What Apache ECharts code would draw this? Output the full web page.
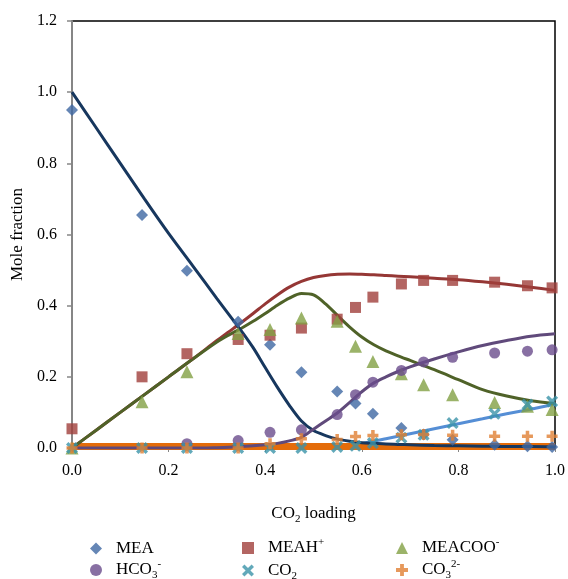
<!DOCTYPE html>
<html>
<head>
<meta charset="utf-8">
<script src="https://cdn.jsdelivr.net/npm/echarts@6/dist/echarts.min.js"></script>
<style>
  html, body { margin: 0; padding: 0; background: #fff; }
  #chart { width: 568px; height: 579px; }
</style>
</head>
<body>
<div id="chart"></div>
<script>
// Speciation in loaded MEA solution: measured points and model curves
const loading = [0, 0.145, 0.238, 0.344, 0.41, 0.475, 0.549, 0.587, 0.623, 0.682, 0.728, 0.788, 0.875, 0.943, 0.994];
const meaPts    = [0.95, 0.655, 0.498, 0.355, 0.29, 0.213, 0.159, 0.125, 0.096, 0.056, 0.038, 0.023, 0.009, 0.005, 0.003];
const meahPts   = [0.054, 0.2, 0.265, 0.305, 0.317, 0.337, 0.362, 0.395, 0.424, 0.461, 0.471, 0.471, 0.466, 0.456, 0.45];
const meacooPts = [0.0, 0.13, 0.214, 0.322, 0.333, 0.365, 0.356, 0.286, 0.243, 0.209, 0.178, 0.15, 0.128, 0.117, 0.108];
const hco3Pts   = [null, null, 0.012, 0.021, 0.044, 0.051, 0.094, 0.15, 0.185, 0.218, 0.242, 0.255, 0.267, 0.272, 0.276];
const co2Pts    = [0, 0, 0, 0, 0, 0, 0.003, 0.006, 0.014, 0.029, 0.037, 0.07, 0.096, 0.122, 0.131];
const co3Pts    = [0, 0, 0, 0, 0.012, 0.026, 0.024, 0.032, 0.035, 0.037, 0.038, 0.036, 0.033, 0.033, 0.033];

// Model curves on a common loading grid (finer through the transition region)
const modelX      = [0, 0.05, 0.1, 0.15, 0.2, 0.25, 0.3, 0.325, 0.35, 0.375, 0.4, 0.425, 0.45, 0.475, 0.5, 0.525, 0.55, 0.575, 0.6, 0.625, 0.65, 0.675, 0.7, 0.75, 0.8, 0.85, 0.9, 0.95, 1.0];
const meaModel    = [1.0, 0.9, 0.8, 0.7, 0.603, 0.512, 0.42, 0.375, 0.33, 0.282, 0.226, 0.171, 0.12, 0.076, 0.049, 0.035, 0.025, 0.019, 0.015, 0.013, 0.011, 0.01, 0.009, 0.007, 0.006, 0.005, 0.004, 0.004, 0.003];
const meahModel   = [0, 0.05, 0.1, 0.15, 0.2, 0.25, 0.302, 0.327, 0.352, 0.378, 0.405, 0.43, 0.452, 0.468, 0.479, 0.485, 0.488, 0.489, 0.488, 0.487, 0.485, 0.483, 0.481, 0.477, 0.473, 0.467, 0.46, 0.452, 0.443];
const meacooModel = [0, 0.05, 0.1, 0.15, 0.2, 0.25, 0.298, 0.318, 0.336, 0.356, 0.378, 0.401, 0.421, 0.434, 0.43, 0.405, 0.372, 0.34, 0.312, 0.29, 0.273, 0.259, 0.246, 0.22, 0.192, 0.164, 0.146, 0.133, 0.125];
const hco3Model   = [0, 0, 0, 0, 0, 0, 0.001, 0.002, 0.004, 0.006, 0.009, 0.013, 0.02, 0.03, 0.053, 0.076, 0.099, 0.128, 0.158, 0.183, 0.2, 0.215, 0.228, 0.25, 0.27, 0.288, 0.302, 0.314, 0.321];
const co2Model    = [0, 0, 0, 0, 0, 0, 0, 0, 0, 0, 0, 0, 0, 0, 0, 0.001, 0.003, 0.007, 0.013, 0.019, 0.026, 0.033, 0.04, 0.054, 0.068, 0.082, 0.096, 0.109, 0.123];
const co3Model    = [0.004, 0.004, 0.004, 0.004, 0.004, 0.004, 0.004, 0.004, 0.004, 0.004, 0.004, 0.004, 0.004, 0.004, 0.004, 0.004, 0.004, 0.004, 0.004, 0.004, 0.004, 0.004, 0.004, 0.004, 0.004, 0.004, 0.004, 0.004, 0.004];

const yTicks = ['0.0', '0.2', '0.4', '0.6', '0.8', '1.0', '1.2'];
const xTicks = ['0.0', '0.2', '0.4', '0.6', '0.8', '1.0'];

const FONT = 'Liberation Serif, Times New Roman, serif';

const pair = (xs, ys) => xs.map((x, i) => [x, ys[i]]);

const crossPath = 'path://M0,2L2,0L5,3L8,0L10,2L7,5L10,8L8,10L5,7L2,10L0,8L3,5Z';
const plusPath = 'path://M3.4,0H6.6V3.4H10V6.6H6.6V10H3.4V6.6H0V3.4H3.4Z';

function lineSeries(name, ys, color, width) {
  return {
    name: name, type: 'line', data: pair(modelX, ys),
    smooth: 0.3, showSymbol: false, symbol: 'none',
    lineStyle: { color: color, width: width }, z: 2, silent: true
  };
}
function pointSeries(name, ys, symbol, size, color) {
  return {
    name: name, type: 'scatter', data: pair(loading, ys).filter(p => p[1] !== null),
    symbol: symbol, symbolSize: size,
    itemStyle: { color: color }, z: 3
  };
}

const labelRich = {
  gap: { width: 9 },
  t: { fontFamily: FONT, fontSize: 17, color: '#000', lineHeight: 22, verticalAlign: 'middle' },
  sup: { fontFamily: FONT, fontSize: 11, color: '#000', lineHeight: 13, verticalAlign: 'top' },
  sub: { fontFamily: FONT, fontSize: 11, color: '#000', lineHeight: 16, verticalAlign: 'bottom' }
};
const legendText = {
  'MEA': '{gap|}{t|MEA}',
  'MEAH+': '{gap|}{t|MEAH}{sup|+}',
  'MEACOO-': '{gap|}{t|MEACOO}{sup|-}',
  'HCO3-': '{gap|}{t|HCO}{sub|3}{sup|-}',
  'CO2': '{gap|}{t|CO}{sub|2}',
  'CO32-': '{gap|}{t|CO}{sub|3}{sup|2-}'
};
// legend entries laid out in a 3 x 2 block below the axis title
const legendPos = [
  ['MEA', 85, 535], ['MEAH+', 237, 532], ['MEACOO-', 391, 532],
  ['HCO3-', 85, 554], ['CO2', 237, 557], ['CO32-', 391, 554]
];

const chart = echarts.init(document.getElementById('chart'), null, { renderer: 'canvas' });
chart.setOption({
  animation: false,
  backgroundColor: '#fff',
  grid: {
    left: 72, right: 12, top: 21, bottom: 131,
    show: true, borderColor: '#000', borderWidth: 1.5, backgroundColor: 'transparent'
  },
  legend: legendPos.map(([name, left, top]) => ({
    data: [name], left: left, top: top, orient: 'horizontal',
    itemWidth: 12, itemHeight: 12, selectedMode: false,
    formatter: (n) => legendText[n],
    textStyle: { rich: labelRich }
  })),
  xAxis: {
    type: 'value', min: 0, max: 1, interval: 0.2,
    name: '{t|CO}{sub|2}{t| loading}', nameLocation: 'middle', nameGap: 55,
    nameTextStyle: { rich: labelRich },
    axisLine: { show: true, lineStyle: { color: '#868686', width: 2 } },
    axisTick: { show: true, inside: false, length: 4, lineStyle: { color: '#868686', width: 1 } },
    axisLabel: { margin: 15, fontFamily: FONT, fontSize: 16, color: '#000',
      formatter: (v) => xTicks[Math.round(v / 0.2)] },
    splitLine: { show: false }
  },
  yAxis: {
    type: 'value', min: 0, max: 1.2, interval: 0.2,
    name: 'Mole fraction', nameLocation: 'middle', nameGap: 41,
    nameTextStyle: { fontFamily: FONT, fontSize: 17, color: '#000' },
    axisLine: { show: true, lineStyle: { color: '#868686', width: 2 } },
    axisTick: { show: true, inside: false, length: 5, lineStyle: { color: '#868686', width: 1.5 } },
    axisLabel: { margin: 15, fontFamily: FONT, fontSize: 16, color: '#000',
      formatter: (v) => yTicks[Math.round(v / 0.2)] },
    splitLine: { show: false }
  },
  series: [
    lineSeries('CO2 model', co2Model, '#558ed5', 3),
    lineSeries('CO32- model', co3Model, '#e46c0a', 7),
    lineSeries('MEAH+ model', meahModel, '#953735', 3),
    lineSeries('MEACOO- model', meacooModel, '#4f6228', 3),
    lineSeries('MEA model', meaModel, '#17375e', 3),
    lineSeries('HCO3- model', hco3Model, '#604a7b', 3),
    pointSeries('MEA', meaPts, 'diamond', 12, '#3f68a2'),
    pointSeries('MEAH+', meahPts, 'rect', 11, '#a03f3b'),
    pointSeries('MEACOO-', meacooPts, 'triangle', 13, '#82a043'),
    pointSeries('HCO3-', hco3Pts, 'circle', 11, '#6a4c8c'),
    pointSeries('CO2', co2Pts, crossPath, 12, '#3b93a9'),
    pointSeries('CO32-', co3Pts, plusPath, 11, '#e07f33')
  ]
});
</script>
</body>
</html>
